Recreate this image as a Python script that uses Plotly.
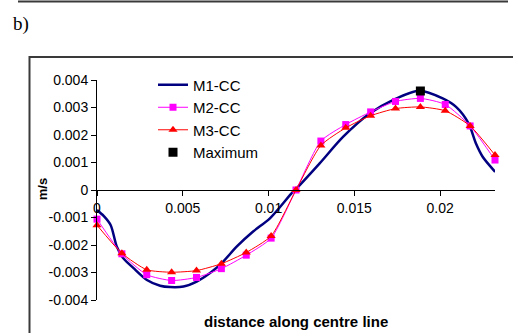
import plotly.graph_objects as go

# ---------------- data ----------------
x_pts = [0.0, 0.00145, 0.0029, 0.00435, 0.0058, 0.00725, 0.0087, 0.01015,
         0.0116, 0.01305, 0.0145, 0.01595, 0.0174, 0.01885, 0.0203, 0.02175, 0.0232]
m2 = [-0.00106, -0.00232, -0.00308, -0.00329, -0.00318, -0.00286, -0.00237, -0.00175,
      0.0, 0.00178, 0.00238, 0.00284, 0.00322, 0.00333, 0.00311, 0.00233, 0.00109]
m3 = [-0.00128, -0.00230, -0.00290, -0.00299, -0.00293, -0.00268, -0.00227, -0.00167,
      0.0, 0.00162, 0.00226, 0.00270, 0.00296, 0.00302, 0.00288, 0.00233, 0.00127]

m1_x = [0.0, 0.0004, 0.0008, 0.00115, 0.0015, 0.00213, 0.00291, 0.00368,
        0.00426, 0.00504, 0.00581, 0.00659, 0.00727, 0.00814, 0.0091, 0.01008,
        0.01134, 0.01159, 0.01298, 0.01434, 0.01589, 0.01724, 0.0188, 0.02015,
        0.02093, 0.02166, 0.02209, 0.02248, 0.02321]
m1_y = [-0.00073, -0.00095, -0.00128, -0.00205, -0.00245, -0.00284, -0.00327,
        -0.00348, -0.00353, -0.00351, -0.00333, -0.00302, -0.00266, -0.00206, -0.00151,
        -0.00103, -0.00012, 0.00003, 0.00097, 0.00193, 0.00278, 0.00327, 0.00361,
        0.00333, 0.00302, 0.00242, 0.00169, 0.00121, 0.00066]

max_x = [0.01885]
max_y = [0.0036]

x_tickvals = [0, 0.005, 0.01, 0.015, 0.02]
x_ticktext = ["0", "0.005", "0.01", "0.015", "0.02"]
y_tickvals = [0.004, 0.003, 0.002, 0.001, 0, -0.001, -0.002, -0.003, -0.004]
y_ticktext = ["0.004", "0.003", "0.002", "0.001", "0", "-0.001", "-0.002", "-0.003", "-0.004"]

# ---------------- layout geometry ----------------
W, H = 513, 333
L, R, T, B = 97, 18, 79.5, 33
PW, PH = W - L - R, H - T - B


def px(xp):
    return (xp - L) / PW


def py(yp):
    return (H - B - yp) / PH


FONT = "Liberation Sans, Arial, sans-serif"

fig = go.Figure()
fig.add_trace(go.Scatter(x=m1_x, y=m1_y, mode="lines", name="M1-CC",
                         line=dict(color="#000080", width=2.5, shape="spline", smoothing=0.8),
                         cliponaxis=False))
fig.add_trace(go.Scatter(x=x_pts, y=m2, mode="lines+markers", name="M2-CC",
                         line=dict(color="#FF00FF", width=1, shape="spline", smoothing=0.6),
                         marker=dict(symbol="square", size=7, color="#FF00FF"),
                         cliponaxis=False))
fig.add_trace(go.Scatter(x=x_pts, y=m3, mode="lines+markers", name="M3-CC",
                         line=dict(color="#FF0000", width=1, shape="spline", smoothing=0.6),
                         marker=dict(symbol="triangle-up", size=8, color="#FF0000"),
                         cliponaxis=False))
fig.add_trace(go.Scatter(x=max_x, y=max_y, mode="markers", name="Maximum",
                         marker=dict(symbol="square", size=9, color="#000000"),
                         cliponaxis=False))

fig.update_layout(
    width=W, height=H,
    margin=dict(l=L, r=R, t=T, b=B, pad=0),
    paper_bgcolor="white", plot_bgcolor="white",
    font=dict(family=FONT, size=14, color="#000000"),
    showlegend=True,
    legend=dict(x=px(153), y=py(68), xanchor="left", yanchor="top",
                bgcolor="rgba(0,0,0,0)", borderwidth=0,
                font=dict(family=FONT, size=15, color="#000000"),
                itemwidth=30),
    xaxis=dict(range=[0, 0.0232], showgrid=False, zeroline=False,
               showline=True, linecolor="#000000", linewidth=1,
               ticks="outside", ticklen=5, tickcolor="#000000",
               tickvals=x_tickvals, ticktext=x_ticktext,
               anchor="free", position=0.5,
               tickfont=dict(family=FONT, size=14)),
    yaxis=dict(range=[-0.004, 0.004], showgrid=False, zeroline=False,
               showline=True, linecolor="#000000", linewidth=1,
               ticks="outside", ticklen=5, tickcolor="#000000",
               tickvals=y_tickvals, ticktext=y_ticktext,
               tickfont=dict(family=FONT, size=14)),
)

# outer frame and separator line (decoration)
fig.add_shape(type="rect", xref="paper", yref="paper",
              x0=px(29.5), x1=px(525), y0=py(56.5), y1=py(345),
              line=dict(color="#3a3a3a", width=2), layer="below")
fig.add_shape(type="line", xref="paper", yref="paper",
              x0=px(18), x1=px(508), y0=py(0.7), y1=py(0.7),
              line=dict(color="#3a3a3a", width=2))

fig.add_annotation(text="b)", xref="paper", yref="paper", x=px(21), y=py(23),
                   xanchor="center", yanchor="middle",
                   showarrow=False, font=dict(family="Liberation Serif, Times New Roman, serif",
                                              size=19, color="#000000"))
fig.add_annotation(text="<b>m/s</b>", xref="paper", yref="paper", x=px(42), y=py(189),
                   xanchor="center", yanchor="middle",
                   showarrow=False, textangle=-90,
                   font=dict(family=FONT, size=13, color="#000000"))
fig.add_annotation(text="<b>distance along centre line</b>", xref="paper", yref="paper",
                   x=px(296), y=py(322), xanchor="center", yanchor="middle",
                   showarrow=False,
                   font=dict(family=FONT, size=15, color="#000000"))

fig.write_html("out.html")
